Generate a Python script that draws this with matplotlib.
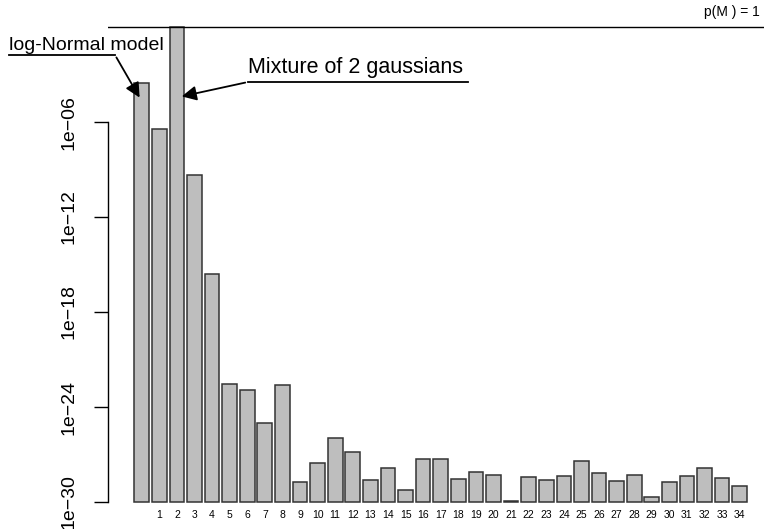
import numpy as np
import matplotlib
matplotlib.use("Agg")
import matplotlib.pyplot as plt
from matplotlib.lines import Line2D
from matplotlib import font_manager

# ---- data ----
bar_labels = [""] + [str(i) for i in range(1, 35)]
log10_values = [-3.51, -6.46, 0.0, -9.34, -15.62, -22.53, -22.93, -24.99, -22.61,
                -28.76, -27.56, -25.94, -26.82, -28.63, -27.85, -29.26, -27.30,
                -27.26, -28.57, -28.10, -28.27, -29.95, -28.40, -28.61, -28.34,
                -27.41, -28.19, -28.67, -28.27, -29.66, -28.74, -28.38, -27.87,
                -28.50, -28.99]
ytick_exps = [-30, -24, -18, -12, -6]
base_value = 1e-30
ref_line = 1.0

names = {f.name for f in font_manager.fontManager.ttflist}
narrow = "Liberation Sans Narrow" if "Liberation Sans Narrow" in names else "Liberation Sans"
main_font = "Liberation Sans"

W, H = 764, 529
fig = plt.figure(figsize=(W / 100, H / 100), dpi=100)

def fx(x):
    return x / W

def fy(y):
    return 1 - y / H

ylo, yhi = -30.2, 0.4
ppd = 15.83
ax_bottom_px = 502 + (-30 - ylo) * ppd
ax_height_px = (yhi - ylo) * ppd
ax = fig.add_axes([fx(108), (H - ax_bottom_px) / H, fx(764) - fx(108), ax_height_px / H])

vals = 10.0 ** np.array(log10_values)
x = np.arange(len(vals))
ax.set_yscale("log")
ax.bar(x, vals - base_value, bottom=base_value, width=0.833,
       color="#bebebe", edgecolor="#333333", linewidth=1.1)

ax.set_ylim(10 ** ylo, 10 ** yhi)
ax.set_xlim(-1.916, 35.38)

ax.axhline(ref_line, color="black", linewidth=1.0)

for s in ["top", "right", "bottom"]:
    ax.spines[s].set_visible(False)
ax.spines["left"].set_bounds(10.0 ** ytick_exps[0], 10.0 ** ytick_exps[-1])
ax.spines["left"].set_linewidth(1.0)

yt = [10.0 ** e for e in ytick_exps]
ax.set_yticks(yt)
ax.set_yticklabels(["1e\u2212%02d" % (-e) for e in ytick_exps],
                   rotation=90, va="center", fontsize=14, family=main_font)
ax.yaxis.set_minor_locator(matplotlib.ticker.NullLocator())
ax.tick_params(axis="y", length=10, width=1.0, pad=12)

ax.set_xticks(x[1:])
ax.set_xticklabels(bar_labels[1:], fontsize=7.5, family=narrow)
ax.tick_params(axis="x", length=0, pad=3.5)

# p(M) = 1 label
fig.text(fx(760), fy(12), "p(M ) = 1", ha="right", va="center",
         fontsize=10, family=main_font)

# annotations
fig.text(fx(9), fy(45), "log-Normal model", ha="left", va="center",
         fontsize=14, family=narrow)
fig.add_artist(Line2D([fx(9), fx(115)], [fy(55), fy(55)], color="black", lw=1.3))
fig.add_artist(matplotlib.patches.FancyArrowPatch(
    (fx(115), fy(55)), (fx(141), fy(100)), transform=fig.transFigure,
    arrowstyle="-|>", mutation_scale=22, color="black", lw=1.3))

fig.text(fx(248), fy(67), "Mixture of 2 gaussians", ha="left", va="center",
         fontsize=15.5, family=main_font)
fig.add_artist(Line2D([fx(248), fx(468)], [fy(82), fy(82)], color="black", lw=1.3))
fig.add_artist(matplotlib.patches.FancyArrowPatch(
    (fx(248), fy(82)), (fx(179), fy(97)), transform=fig.transFigure,
    arrowstyle="-|>", mutation_scale=22, color="black", lw=1.3))

fig.savefig("out.png", dpi=100)
